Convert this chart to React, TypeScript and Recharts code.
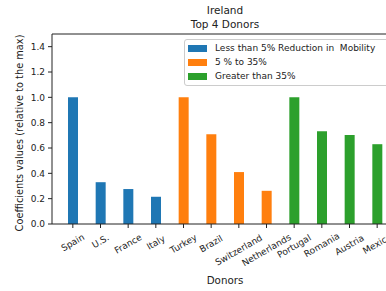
import { BarChart, Bar, XAxis, YAxis, ReferenceLine } from "recharts";

const lowDonors = ["Spain", "U.S.", "France", "Italy"];
const lowValues = [1.0, 0.33, 0.276, 0.215];
const midDonors = ["Turkey", "Brazil", "Switzerland", "Netherlands"];
const midValues = [1.0, 0.709, 0.41, 0.262];
const highDonors = ["Portugal", "Romania", "Austria", "Mexico"];
const highValues = [1.0, 0.732, 0.703, 0.63];

const yTicks = [0, 0.2, 0.4, 0.6, 0.8, 1.0, 1.2, 1.4];

const seriesNames = ["Less than 5% Reduction in  Mobility", "5 % to 35%", "Greater than 35%"];

const enum COLORS {
  BLUE = "#1f77b4",
  ORANGE = "#ff7f0e",
  GREEN = "#2ca02c",
  TEXT = "#222222",
}

const FONT = "'DejaVu Sans', sans-serif";

const data = [
  ...lowDonors.map((name, i) => ({ name, low: lowValues[i] })),
  ...midDonors.map((name, i) => ({ name, mid: midValues[i] })),
  ...highDonors.map((name, i) => ({ name, high: highValues[i] })),
];

const XTick = ({ x, y, payload }: any) => {
  const label: string = payload.value;
  const w = label.length * 5.0;
  const bh = w * 0.5 + 10 * 0.866;
  return (
    <g transform={`translate(${x},${y + 4 + bh / 2})`}>
      <text
        transform="rotate(-30)"
        textAnchor="middle"
        dominantBaseline="central"
        fontSize={9}
        fontFamily={FONT}
        fill={COLORS.TEXT}
      >
        {label}
      </text>
    </g>
  );
};

const LegendBox = () => {
  const colors = [COLORS.BLUE, COLORS.ORANGE, COLORS.GREEN];
  return (
    <div
      style={{
        position: "absolute",
        left: 184,
        top: 39,
        border: "1px solid #cccccc",
        borderRadius: 3,
        background: "rgba(255,255,255,0.8)",
        padding: "1px 4px 2px 3px",
        width: 240,
        fontFamily: FONT,
        fontSize: 9,
        color: COLORS.TEXT,
      }}
    >
      {seriesNames.map((n, i) => (
        <div key={n} style={{ display: "flex", alignItems: "center", height: 14 }}>
          <span style={{ width: 19, height: 7, background: colors[i], marginRight: 8 }} />
          <span style={{ whiteSpace: "pre" }}>{n}</span>
        </div>
      ))}
    </div>
  );
};

export default function App() {
  return (
    <div
      style={{
        position: "absolute",
        left: 0,
        top: 0,
        width: 386,
        height: 291,
        overflow: "hidden",
        background: "#fff",
      }}
    >
      <div
        style={{
          position: "absolute",
          left: 0,
          top: 3,
          width: 450,
          textAlign: "center",
          fontFamily: FONT,
          fontSize: 10.5,
          lineHeight: "14px",
          color: COLORS.TEXT,
        }}
      >
        <div>Ireland</div>
        <div>Top 4 Donors</div>
      </div>
      <BarChart
        width={410}
        height={291}
        data={data}
        margin={{ top: 34, right: 12, left: 0, bottom: 0 }}
        barSize={10}
      >
        <XAxis
          dataKey="name"
          interval={0}
          height={67}
          padding={{ left: 7, right: 7 }}
          tick={<XTick />}
          tickSize={4}
          tickMargin={0}
          stroke={COLORS.TEXT}
          label={({ viewBox }: any) => (
            <text
              x={viewBox.x + viewBox.width / 2}
              y={280}
              textAnchor="middle"
              dominantBaseline="central"
              fontSize={10.3}
              fontFamily={FONT}
              fill={COLORS.TEXT}
            >
              Donors
            </text>
          )}
        />
        <YAxis
          width={52}
          domain={[0, 1.5]}
          ticks={yTicks}
          tickFormatter={(v: number) => v.toFixed(1)}
          tickSize={4}
          tickMargin={3}
          stroke={COLORS.TEXT}
          tick={{ fontSize: 9, fontFamily: FONT, fill: COLORS.TEXT }}
          label={() => (
            <text
              transform="translate(19,133) rotate(-90)"
              textAnchor="middle"
              dominantBaseline="central"
              fontSize={9.8}
              fontFamily={FONT}
              fill={COLORS.TEXT}
            >
              Coefficients values (relative to the max)
            </text>
          )}
        />
        <ReferenceLine y={1.5} stroke={COLORS.TEXT} />
        <Bar dataKey="low" stackId="a" fill={COLORS.BLUE} isAnimationActive={false} />
        <Bar dataKey="mid" stackId="a" fill={COLORS.ORANGE} isAnimationActive={false} />
        <Bar dataKey="high" stackId="a" fill={COLORS.GREEN} isAnimationActive={false} />
      </BarChart>
      <LegendBox />
    </div>
  );
}
